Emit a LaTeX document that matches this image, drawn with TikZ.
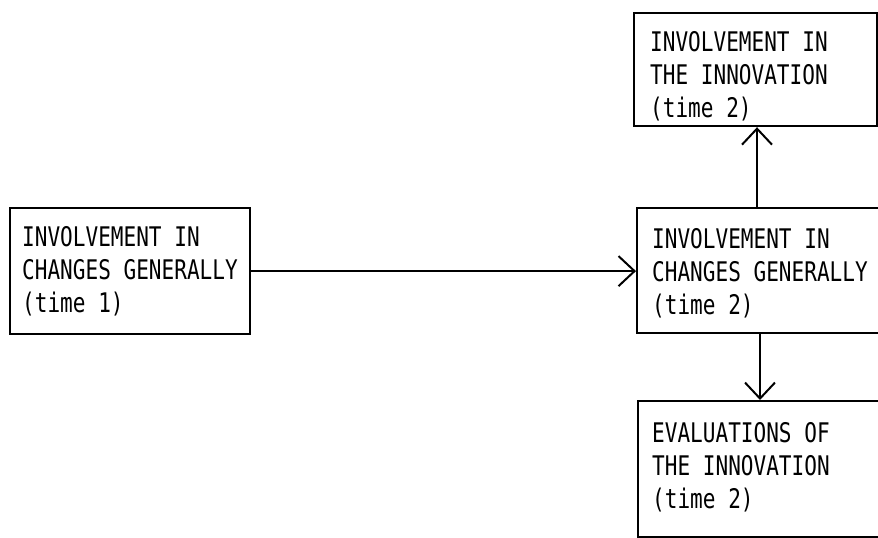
\documentclass[tikz,border=0pt]{standalone}
\usepackage{fontspec}
\usetikzlibrary{arrows.meta}
\newfontfamily\plotfont[FakeStretch=0.78]{DejaVu Sans Mono}
\begin{document}
\begin{tikzpicture}[x=1pt,y=-1pt,
  box/.style={draw, line width=2.2pt, rectangle, anchor=north west, inner sep=0pt},
  label text/.style={anchor=west, align=left, inner sep=0pt,
    font=\plotfont\fontsize{27}{33}\selectfont},
  link/.style={line width=2pt, -{Straight Barb[length=16pt,width=30pt,line width=2pt]}}]
  \useasboundingbox (0,0) rectangle (878,538);
  \clip (0,0) rectangle (878,538);

  % boxes
  \node[box, minimum width=240pt, minimum height=126pt] (gen1) at (9,207) {};
  \node[box, minimum width=300pt, minimum height=125pt] (gen2) at (636,207) {};
  \node[box, minimum width=243pt, minimum height=113pt] (inv2) at (633,12) {};
  \node[box, minimum width=300pt, minimum height=136pt] (eval2) at (637,400) {};

  % texts
  \node[label text] (tgen1) at ([xshift=13pt]gen1.west)
    {INVOLVEMENT IN\\CHANGES GENERALLY\\(time 1)};
  \node[label text] (tgen2) at ([xshift=16pt,yshift=-2.5pt]gen2.west)
    {INVOLVEMENT IN\\CHANGES GENERALLY\\(time 2)};
  \node[label text] (tinv2) at ([xshift=17pt,yshift=-6.5pt]inv2.west)
    {INVOLVEMENT IN\\THE INNOVATION\\(time 2)};
  \node[label text] (teval2) at ([xshift=15pt,yshift=2pt]eval2.west)
    {EVALUATIONS OF\\THE INNOVATION\\(time 2)};

  % connectors
  \draw[link] (gen1.east) -- (gen2.west |- gen1.east);
  \draw[link] ([xshift=121pt]gen2.north west) -- ([xshift=121pt]gen2.north west |- inv2.south);
  \draw[link] ([xshift=124pt]gen2.south west) -- ([xshift=124pt]gen2.south west |- eval2.north);
\end{tikzpicture}
\end{document}
